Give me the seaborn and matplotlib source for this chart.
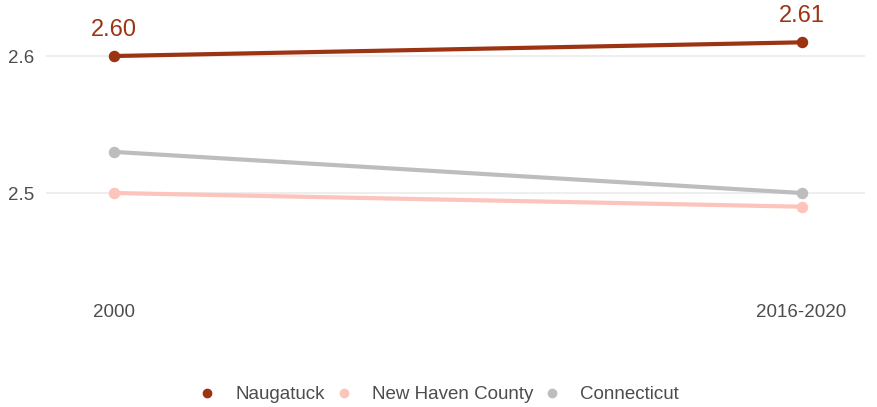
import pandas as pd
import matplotlib.pyplot as plt
import seaborn as sns
from matplotlib.lines import Line2D

# Data
periods = ['2000', '2016-2020']
naugatuck = [2.60, 2.61]
new_haven = [2.50, 2.49]
connecticut = [2.53, 2.50]

series_names = ['Naugatuck', 'New Haven County', 'Connecticut']
colors = ['#9c3414', '#fcc4ba', '#bdbdbd']

df = pd.DataFrame({
    'period': periods * 3,
    'value': naugatuck + new_haven + connecticut,
    'geo': [n for n in series_names for _ in periods],
})

sns.set_theme(style='white')
plt.rcParams['font.family'] = ['Liberation Sans', 'DejaVu Sans']
text_color = '#4d4d4d'

fig = plt.figure(figsize=(8.77, 4.07), dpi=100)
ax = fig.add_axes([0.052, 0.27, 0.934, 0.661])

# draw back to front so Naugatuck is on top
for name, color in reversed(list(zip(series_names, colors))):
    sub = df[df['geo'] == name]
    sns.pointplot(data=sub, x='period', y='value', color=color, order=periods,
                  markers='o', markersize=6, linewidth=3, ax=ax, errorbar=None)

# value labels for Naugatuck
for i, v in enumerate(naugatuck):
    ax.text(i, v + 0.011, f'{v:.2f}', color=colors[0], fontsize=17,
            ha='center', va='bottom')

ax.set_ylim(2.424, 2.6204)
ax.set_xlim(-0.1, 1.092)
ax.set_yticks([2.5, 2.6])
ax.set_yticklabels(['2.5', '2.6'])
ax.yaxis.grid(True, color='#ebebeb', linewidth=1.2)
ax.set_axisbelow(True)
ax.xaxis.grid(False)
for s in ax.spines.values():
    s.set_visible(False)
ax.tick_params(axis='both', length=0, labelsize=13.5, colors=text_color)
ax.tick_params(axis='x', pad=5)
ax.tick_params(axis='y', pad=8)
ax.set_xlabel('')
ax.set_ylabel('')

handles = [Line2D([], [], marker='o', linestyle='', color=c, markersize=6)
           for c in colors]
fig.legend(handles, series_names, loc='center', bbox_to_anchor=(0.5, 0.03),
           ncol=3, frameon=False, fontsize=13.5, labelcolor=text_color,
           handlelength=1.0, handletextpad=1.0, columnspacing=0.5)

fig.savefig('out.png', dpi=100)
